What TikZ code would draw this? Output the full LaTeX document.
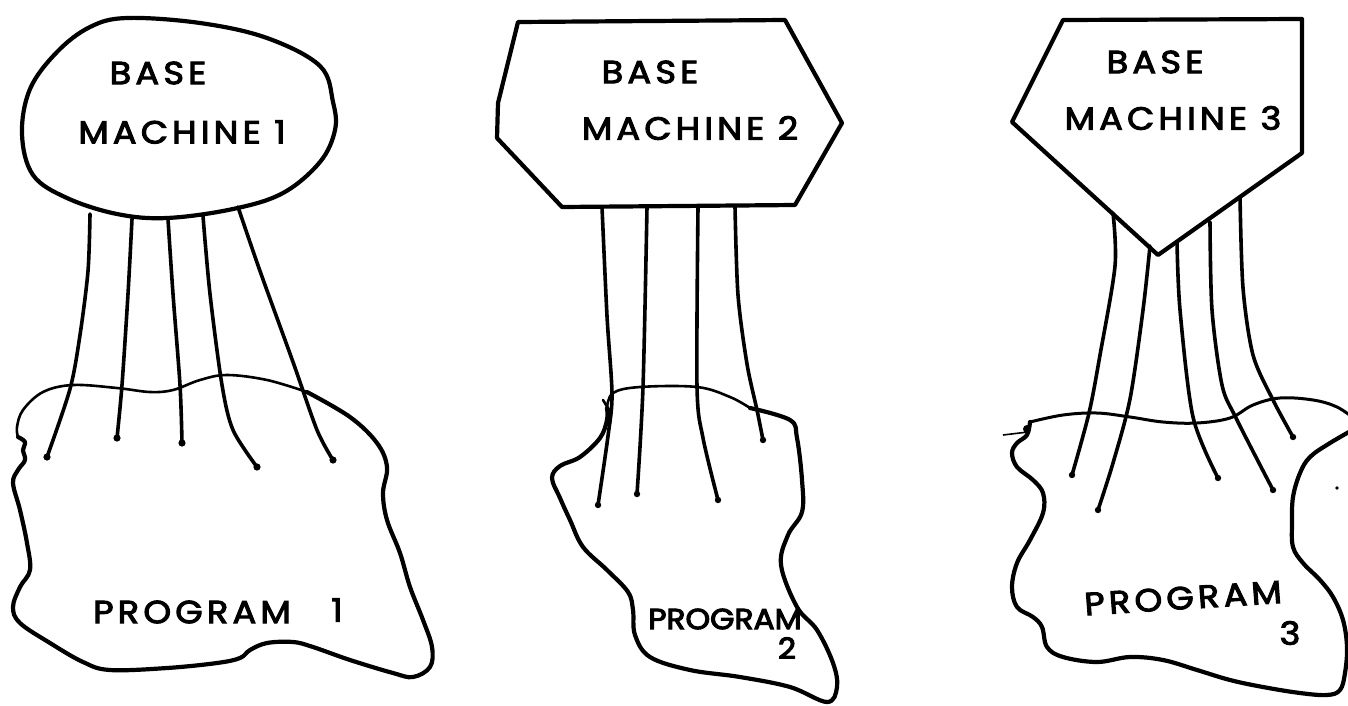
\documentclass[tikz,border=0pt]{standalone}
\usepackage{fontspec}
\newfontfamily\hand[FakeBold=3,LetterSpace=12]{Poppins}
\newfontfamily\handtight[FakeBold=3.5]{Poppins}
\begin{document}
\begin{tikzpicture}[x=1pt,y=-1pt,
  outline/.style={line width=4.2pt, line join=round, line cap=round},
  thinout/.style={line width=2.6pt, line join=round, line cap=round},
  wire/.style={line width=3.6pt, line cap=round},
  lbl/.style={font=\hand\fontsize{32}{34}\selectfont, inner sep=0pt, xscale=1.1},
  lblsmall/.style={font=\handtight\fontsize{29}{31}\selectfont, inner sep=0pt, xscale=1.08}]
\useasboundingbox (0,0) rectangle (1348,705);
\clip (0,0) rectangle (1348,705);

% ---------------- Panel 1 ----------------
\draw[outline] plot[smooth cycle, tension=0.6] coordinates {(127,18) (200,23) (267,38) (320,66) (333,102) (335,130) (320,162) (283,193) (233,209) (167,218) (117,214) (67,198) (33,175) (22,134) (30,89) (57,52) (90,27)};
\node[lbl] (bm1a) at (158,73) {BASE};
\node[lbl] (bm1b) at (182,132) {MACHINE 1};

\coordinate (m1a) at (90,214);  \coordinate (p1a) at (47,457);
\coordinate (m1b) at (132,219); \coordinate (p1b) at (117,438);
\coordinate (m1c) at (168,219); \coordinate (p1c) at (182,443);
\coordinate (m1d) at (203,216); \coordinate (p1d) at (257,467);
\coordinate (m1e) at (238,207); \coordinate (p1e) at (333,460);
\draw[wire] plot[smooth] coordinates {(m1a) (88,271) (80,335) (70,389) (p1a)};
\draw[wire] plot[smooth] coordinates {(m1b) (128,294) (122,385) (p1b)};
\draw[wire] plot[smooth] coordinates {(m1c) (173,294) (180,385) (p1c)};
\draw[wire] plot[smooth] coordinates {(m1d) (210,294) (222,385) (233,430) (p1d)};
\draw[wire] plot[smooth] coordinates {(m1e) (260,271) (293,362) (317,430) (p1e)};
\foreach \p in {p1a,p1b,p1c,p1d,p1e} \fill (\p) circle (3.6);

\draw[thinout] plot[smooth, tension=0.6] coordinates {(18,437) (17,427) (23,410) (43,392) (73,385) (117,388) (150,392) (173,390) (200,380) (227,375) (267,380) (307,392)};
\draw[outline] plot[smooth, tension=0.6] coordinates {(307,392) (350,417) (377,443) (387,467) (383,493) (387,520) (400,553) (410,587) (423,620) (432,647) (430,667) (413,677) (393,673) (350,660) (313,647) (293,642) (267,643) (250,650) (240,658) (217,663) (167,668) (110,670) (83,662) (50,643) (20,623) (13,607) (20,587) (30,570) (27,543) (20,510) (13,483) (18,470) (25,460) (23,450) (25,442) (18,437)};
\node[lbl] (pg1a) at (192,612) {PROGRAM};
\node[lbl] (pg1b) at (337,610) {1};

% ---------------- Panel 2 ----------------
\draw[outline] (518,22) -- (785,20) -- (842,123) -- (795,205) -- (562,207) -- (497,138) -- (498,103) -- cycle;
\node[lbl] (bm2a) at (650,72) {BASE};
\node[lbl] (bm2b) at (690,128) {MACHINE 2};

\coordinate (m2a) at (602,207); \coordinate (p2a) at (598,505);
\coordinate (m2b) at (647,207); \coordinate (p2b) at (637,494);
\coordinate (m2c) at (698,207); \coordinate (p2c) at (718,500);
\coordinate (m2d) at (735,207); \coordinate (p2d) at (763,440);
\draw[wire] plot[smooth] coordinates {(m2a) (607,316) (612,394) (608,436) (p2a)};
\draw[wire] plot[smooth] coordinates {(m2b) (643,387) (p2b)};
\draw[wire] plot[smooth] coordinates {(m2c) (697,387) (703,438) (p2c)};
\draw[wire] plot[smooth] coordinates {(m2d) (738,295) (747,364) (757,410) (p2d)};
\foreach \p in {p2a,p2b,p2c,p2d} \fill (\p) circle (3.2);

\draw[thinout] plot[smooth, tension=0.6] coordinates {(607,408) (613,393) (640,387) (697,387) (730,397) (750,408)};
\draw[outline] plot[smooth, tension=0.6] coordinates {(750,408) (790,420) (797,438) (802,480) (802,512) (788,535) (781,565) (797,607) (817,630) (833,663) (837,687) (827,702) (790,687) (740,677) (690,670) (650,657) (635,635) (633,610) (628,592) (607,570) (583,547) (570,520) (560,498) (552,478) (560,466) (580,457) (600,438) (607,420) (607,408)};
\draw[line width=2.6pt, line cap=round] (603,400) -- (611,413);
\node[lblsmall] (pg2a) at (725,619) {PROGRAM};
\node[lblsmall] (pg2b) at (787,648) {2};

% ---------------- Panel 3 ----------------
\draw[outline] (1063,20) -- (1302,19) -- (1302,153) -- (1158,255) -- (1012,122) -- cycle;
\node[lbl] (bm3a) at (1155,62) {BASE};
\node[lbl] (bm3b) at (1173,118) {MACHINE 3};

\coordinate (m3a) at (1113,213); \coordinate (p3a) at (1072,475);
\coordinate (m3b) at (1150,246); \coordinate (p3b) at (1098,510);
\coordinate (m3c) at (1177,242); \coordinate (p3c) at (1218,478);
\coordinate (m3d) at (1210,222); \coordinate (p3d) at (1273,490);
\coordinate (m3e) at (1240,197); \coordinate (p3e) at (1293,437);
\draw[wire] plot[smooth] coordinates {(m3a) (1115,266) (1100,355) (1089,413) (p3a)};
\draw[wire] plot[smooth] coordinates {(m3b) (1143,310) (1130,399) (1113,463) (p3b)};
\draw[wire] plot[smooth] coordinates {(m3c) (1180,310) (1193,417) (p3c)};
\draw[wire] plot[smooth] coordinates {(m3d) (1212,310) (1222,385) (1236,418) (p3d)};
\draw[wire] plot[smooth] coordinates {(m3e) (1243,288) (1253,355) (1273,400) (p3e)};
\foreach \p in {p3a,p3b,p3c,p3d,p3e} \fill (\p) circle (3.2);

\draw[line width=3pt, line cap=round] plot[smooth, tension=0.6] coordinates {(1030,422) (1063,415) (1097,413) (1130,417) (1163,422) (1197,423) (1230,418) (1253,405) (1280,398) (1313,400) (1337,407) (1356,420)};
\draw[outline] plot[smooth, tension=0.6] coordinates {(1356,428) (1330,443) (1310,457) (1300,473) (1293,497) (1292,523) (1293,547) (1303,563) (1320,580) (1333,597) (1343,620) (1347,647) (1345,673) (1340,690) (1327,695) (1300,693) (1263,687) (1230,680) (1197,670) (1163,660) (1130,657) (1097,662) (1063,657) (1047,647) (1042,627) (1033,617) (1017,607) (1012,587) (1017,563) (1030,540) (1043,513) (1043,493) (1033,480) (1017,467) (1012,453) (1017,443) (1027,435) (1030,422)};
\draw[line width=1.6pt] (1003,435) -- (1028,432);
\fill (1027,429) circle (4);
\fill (1337,488) circle (1.8);
\node[lbl, rotate=4] (pg3a) at (1183,598) {PROGRAM};
\node[lbl] (pg3b) at (1290,633) {3};
\end{tikzpicture}
\end{document}
